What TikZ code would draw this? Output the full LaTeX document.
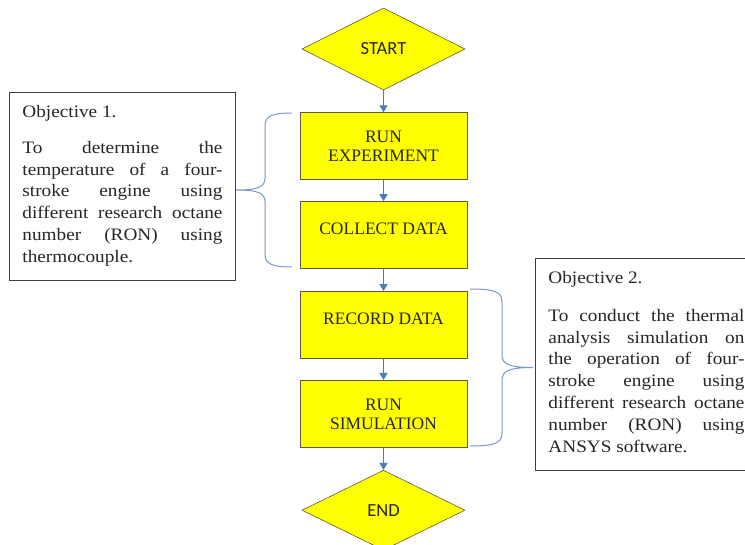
\documentclass[tikz,border=0pt]{standalone}
\usepackage{fontspec}
\setmainfont{Liberation Serif}
\newfontfamily\objfont[FakeStretch=1.1]{Liberation Serif}
\newfontfamily\tipfont{Carlito}
\usepackage{tikz}
\usetikzlibrary{positioning, shapes.geometric, arrows.meta}

\definecolor{boxyellow}{RGB}{255,255,0}
\definecolor{boxline}{RGB}{92,92,60}
\definecolor{arrowblue}{RGB}{74,126,187}
\definecolor{braceblue}{RGB}{122,152,196}
\definecolor{textgrey}{RGB}{38,38,38}

\begin{document}
\begin{tikzpicture}
    [
        x=1pt, y=-1pt,
        terminal/.style={diamond, draw=boxline, line width=0.6pt, fill=boxyellow,
                         minimum width=163pt, inner sep=0pt, text=textgrey,
                         font=\tipfont\fontsize{18.5}{20}\selectfont},
        process/.style={rectangle, draw=boxline, line width=0.9pt, fill=boxyellow,
                        minimum width=167pt, minimum height=67pt, align=center,
                        text=textgrey, font=\fontsize{17.5}{19}\selectfont},
        oneline/.style={text depth=13pt},
        objective/.style={rectangle, draw=black!75, line width=0.9pt, fill=white,
                          inner xsep=13pt, inner ysep=0pt, anchor=north west,
                          text=textgrey, font=\objfont\fontsize{17.5}{21.8}\selectfont},
        flow/.style={draw=arrowblue, line width=1.2pt,
                     -{Triangle[width=8pt,length=7pt]}},
        brace/.style={draw=braceblue, line width=1pt}
    ]
    \useasboundingbox (0,0) rectangle (745,545);

    % flow chart
    \node (start) [terminal, minimum height=82pt] at (383.5,49) {START};
    \node (exp) [process, below=22pt of start] {RUN\\EXPERIMENT};
    \node (collect) [process, oneline, below=21pt of exp] {COLLECT DATA};
    \node (record) [process, oneline, below=22pt of collect] {RECORD DATA};
    \node (sim) [process, below=21pt of record] {RUN\\SIMULATION};
    \node (stop) [terminal, minimum height=80pt, below=22pt of sim] {END};

    \draw[flow] (start) -- (exp);
    \draw[flow] (exp) -- (collect);
    \draw[flow] (collect) -- (record);
    \draw[flow] (record) -- (sim);
    \draw[flow] (sim) -- (stop);

    % objectives
    \node (obj1) [objective] at (9,92) {\begin{minipage}[c][188pt][t]{200pt}\sloppy
        \vspace*{13pt}Objective 1.\\[14pt]
        To determine the\linebreak temperature of a four-\linebreak
        stroke engine using\linebreak different research octane\linebreak
        number (RON) using\linebreak thermocouple.
    \end{minipage}};
    \node (obj2) [objective] at (535,258) {\begin{minipage}[c][212pt][t]{196pt}\sloppy
        \vspace*{13pt}Objective 2.\\[16pt]
        To conduct the thermal\linebreak analysis simulation on\linebreak
        the operation of four-\linebreak stroke engine using\linebreak
        different research octane\linebreak number (RON) using\linebreak
        ANSYS software.
    \end{minipage}};

    % braces
    \draw[brace] (292,113) .. controls (272,113) and (265,116) .. (265,126)
        -- (265,178) .. controls (265,187) and (258,190) .. (236,190)
        .. controls (258,190) and (265,193) .. (265,202)
        -- (265,254) .. controls (265,264) and (272,267) .. (292,267);
    \draw[brace] (470,289) .. controls (495,289) and (502,292) .. (502,302)
        -- (502,355) .. controls (502,364) and (509,367.5) .. (533,367.5)
        .. controls (509,367.5) and (502,371) .. (502,380)
        -- (502,433) .. controls (502,443) and (495,446) .. (470,446);
\end{tikzpicture}
\end{document}
